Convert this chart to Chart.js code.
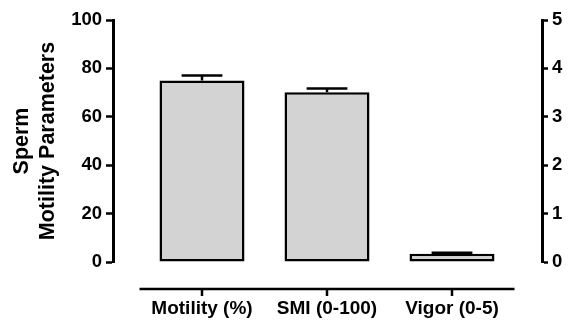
<!DOCTYPE html>
<html>
<head>
<meta charset="utf-8">
<script src="https://cdn.jsdelivr.net/npm/chart.js@4"></script>
<style>
  body { margin: 0; background: #fff; }
</style>
</head>
<body>
<canvas id="chart" width="568" height="322"></canvas>
<script>
// values
const categories = ['Motility (%)', 'SMI (0-100)', 'Vigor (0-5)'];
const means = [75.0, 70.1, 3.4];
const sems = [2.1, 1.6, 0.4];
const leftTicks = [0, 20, 40, 60, 80, 100];
const rightTicks = [0, 1, 2, 3, 4, 5];

const FONT = 'Arial, "Liberation Sans", sans-serif';
Chart.defaults.font.family = FONT;
Chart.defaults.font.weight = 'bold';
Chart.defaults.color = '#000';

// error bars, drawn from the left scale
const errorBars = {
  id: 'errorBars',
  afterDatasetsDraw(chart) {
    const ctx = chart.ctx;
    const y = chart.scales.y;
    const meta = chart.getDatasetMeta(0);
    ctx.save();
    ctx.strokeStyle = '#000';
    ctx.lineWidth = 2.5;
    meta.data.forEach((bar, i) => {
      const top = y.getPixelForValue(means[i] + sems[i]);
      const half = bar.width * 0.24;
      ctx.beginPath();
      ctx.moveTo(bar.x, bar.y);
      ctx.lineTo(bar.x, top);
      ctx.moveTo(bar.x - half, top);
      ctx.lineTo(bar.x + half, top);
      ctx.stroke();
    });
    ctx.restore();
  }
};

// detached x axis line below the plot, GraphPad style
const xAxisLine = {
  id: 'xAxisLine',
  afterDraw(chart) {
    const ctx = chart.ctx;
    const x = chart.scales.x;
    const yy = chart.chartArea.bottom + 27;
    ctx.save();
    ctx.strokeStyle = '#000';
    ctx.lineWidth = 2.5;
    ctx.beginPath();
    ctx.moveTo(x.getPixelForValue(-0.5), yy);
    ctx.lineTo(x.getPixelForValue(categories.length - 0.5), yy);
    categories.forEach((c, i) => {
      const px = x.getPixelForValue(i);
      ctx.moveTo(px, yy);
      ctx.lineTo(px, yy + 7);
    });
    ctx.stroke();
    ctx.restore();
  }
};

new Chart(document.getElementById('chart'), {
  type: 'bar',
  data: {
    datasets: [{
      data: means.map((v, i) => ({ x: i, y: v })),
      backgroundColor: '#d3d3d3',
      borderColor: '#000',
      borderWidth: 2.5,
      borderSkipped: false,
      barPercentage: 0.68,
      categoryPercentage: 1,
      yAxisID: 'y'
    }]
  },
  options: {
    responsive: false,
    animation: false,
    layout: { padding: { top: 20, right: 0, bottom: 0, left: 0 } },
    plugins: {
      legend: { display: false },
      tooltip: { enabled: false }
    },
    scales: {
      x: {
        type: 'linear',
        offset: false,
        min: -0.712,
        max: 2.72,
        afterBuildTicks: s => { s.ticks = categories.map((c, i) => ({ value: i })); },
        afterFit: s => { s.height = 60; },
        border: { display: false },
        grid: { display: false, drawTicks: false },
        ticks: {
          callback: v => categories[v],
          padding: 35,
          font: { size: 19, weight: 'bold' },
          maxRotation: 0,
          autoSkip: false
        }
      },
      y: {
        position: 'left',
        min: 0,
        max: 100,
        afterBuildTicks: s => { s.ticks = leftTicks.map(v => ({ value: v })); },
        afterFit: s => { s.width = 113; },
        border: { display: true, color: '#000', width: 3 },
        grid: { drawOnChartArea: false, tickLength: 7, tickWidth: 2.5, tickColor: '#000' },
        ticks: { padding: 4, font: { size: 18.5, weight: 'bold' } },
        title: {
          display: true,
          text: ['Sperm', 'Motility Parameters'],
          font: { size: 21.5, weight: 'bold', lineHeight: 1.2 },
          padding: { top: 9, bottom: 0 }
        }
      },
      y1: {
        position: 'right',
        display: true,
        min: 0,
        max: 5,
        afterBuildTicks: s => { s.ticks = rightTicks.map(v => ({ value: v })); },
        afterFit: s => { s.width = 26; },
        border: { display: true, color: '#000', width: 3 },
        grid: { drawOnChartArea: false, tickLength: 6, tickWidth: 2.5, tickColor: '#000' },
        ticks: { padding: 4, font: { size: 18.5, weight: 'bold' } }
      }
    }
  },
  plugins: [errorBars, xAxisLine]
});
</script>
</body>
</html>
